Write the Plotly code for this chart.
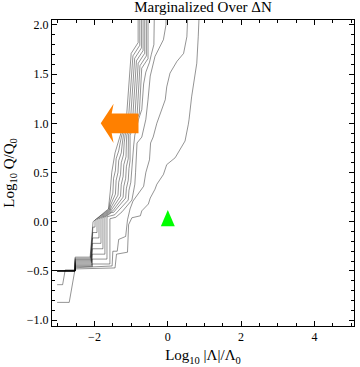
import plotly.graph_objects as go

# contour lines, inner (k0) to outer (k10)
k0_x = [-3.02, -2.53, -2.53, -2.12, -2.04, -1.62, -1.57, -1.53, -1.44, -1.30, -1.12, -1.00, -0.81, -0.81]
k0_y = [-0.50, -0.50, -0.36, -0.36, 0.00, 0.13, 0.31, 0.50, 0.70, 0.88, 1.10, 1.71, 1.82, 2.06]

k1_x = [-3.02, -2.53, -2.53, -2.112, -2.044, -1.986, -1.986, -1.605, -1.58, -1.50, -1.48, -1.43, -1.41, -1.34, -1.30, -1.255, -1.063, -0.952, -0.765, -0.765]
k1_y = [-0.50, -0.50, -0.372, -0.372, -0.055, -0.055, 0.016, 0.124, 0.19, 0.29, 0.44, 0.52, 0.64, 0.72, 0.80, 0.88, 1.10, 1.685, 1.793, 2.06]

k2_x = [-3.02, -2.53, -2.53, -2.104, -2.048, -1.932, -1.932, -1.59, -1.56, -1.43, -1.41, -1.36, -1.34, -1.27, -1.24, -1.21, -1.006, -0.904, -0.72, -0.72]
k2_y = [-0.50, -0.50, -0.384, -0.384, -0.11, -0.11, 0.022, 0.118, 0.17, 0.28, 0.42, 0.50, 0.62, 0.70, 0.80, 0.88, 1.10, 1.66, 1.766, 2.06]

k3_x = [-3.02, -2.53, -2.53, -2.096, -2.052, -1.878, -1.878, -1.575, -1.54, -1.36, -1.34, -1.29, -1.27, -1.21, -1.19, -1.165, -0.949, -0.856, -0.675, -0.675]
k3_y = [-0.50, -0.50, -0.396, -0.396, -0.165, -0.165, 0.028, 0.112, 0.15, 0.27, 0.40, 0.48, 0.60, 0.68, 0.80, 0.88, 1.10, 1.635, 1.739, 2.06]

k4_x = [-3.02, -2.53, -2.53, -2.088, -2.056, -1.824, -1.824, -1.56, -1.52, -1.29, -1.27, -1.22, -1.20, -1.14, -1.13, -1.12, -0.892, -0.808, -0.63, -0.63]
k4_y = [-0.50, -0.50, -0.408, -0.408, -0.22, -0.22, 0.034, 0.106, 0.13, 0.26, 0.38, 0.46, 0.58, 0.66, 0.80, 0.88, 1.10, 1.61, 1.712, 2.06]

k5_x = [-3.02, -2.53, -2.53, -2.08, -2.06, -1.77, -1.77, -1.545, -1.50, -1.22, -1.20, -1.15, -1.13, -1.08, -1.08, -1.075, -0.835, -0.76, -0.585, -0.585]
k5_y = [-0.50, -0.50, -0.42, -0.42, -0.275, -0.275, 0.04, 0.10, 0.11, 0.25, 0.36, 0.44, 0.56, 0.64, 0.80, 0.88, 1.10, 1.585, 1.685, 2.06]

k6_x = [-3.02, -2.53, -2.53, -2.072, -2.065, -1.716, -1.716, -1.53, -1.48, -1.15, -1.13, -1.08, -1.06, -1.03, -1.03, -0.778, -0.712, -0.54, -0.54]
k6_y = [-0.50, -0.50, -0.432, -0.432, -0.33, -0.33, 0.046, 0.094, 0.095, 0.24, 0.34, 0.42, 0.54, 0.62, 0.88, 1.10, 1.56, 1.658, 2.06]

k7_x = [-3.02, -2.53, -2.53, -2.064, -2.068, -1.66, -1.66, -1.45, -1.08, -1.06, -1.01, -0.99, -0.96, -0.93, -0.90, -0.80, -0.71, -0.66, -0.60, -0.50, -0.45, -0.38, -0.37]
k7_y = [-0.50, -0.50, -0.444, -0.444, -0.38, -0.38, 0.05, 0.07, 0.22, 0.32, 0.40, 0.52, 0.60, 0.78, 0.88, 1.04, 1.14, 1.40, 1.52, 1.62, 1.70, 1.80, 2.06]

k8_x = [-3.02, -2.53, -2.53, -2.056, -2.071, -1.58, -1.58, -1.42, -1.25, -0.98, -0.94, -0.90, -0.88, -0.86, -0.84, -0.84, -0.71, -0.60, -0.54, -0.48, -0.35, -0.12, -0.05, -0.05]
k8_y = [-0.50, -0.50, -0.456, -0.456, -0.43, -0.43, 0.03, 0.045, 0.10, 0.22, 0.30, 0.38, 0.50, 0.60, 0.73, 0.80, 0.86, 1.04, 1.24, 1.48, 1.68, 1.85, 2.00, 2.06]

k9_x = [-3.02, -2.87, -2.80, -2.53, -2.53, -1.52, -1.50, -1.38, -1.34, -1.15, -1.10, -1.03, -0.95, -0.78, -0.66, -0.60, -0.50, -0.47, -0.40, -0.30, -0.16, -0.07, -0.03, 0.06, 0.25, 0.43, 0.52, 0.54]
k9_y = [-0.64, -0.64, -0.49, -0.49, -0.468, -0.45, -0.30, -0.30, -0.18, -0.15, 0.02, 0.13, 0.21, 0.30, 0.36, 0.50, 0.63, 0.80, 0.86, 1.00, 1.14, 1.24, 1.37, 1.51, 1.63, 1.71, 1.88, 2.06]

k10_x = [-3.02, -2.69, -2.53, -1.44, -1.40, -1.10, -1.07, -0.98, -0.75, -0.71, -0.53, -0.48, -0.35, -0.30, -0.12, -0.03, 0.20, 0.47, 0.56, 0.58, 0.65, 0.74, 0.79, 0.83, 0.85]
k10_y = [-0.82, -0.82, -0.48, -0.47, -0.33, -0.31, -0.03, 0.04, 0.06, 0.11, 0.18, 0.24, 0.33, 0.38, 0.48, 0.58, 0.65, 0.82, 0.99, 1.04, 1.27, 1.48, 1.61, 1.88, 2.06]

contours = [(k0_x, k0_y), (k1_x, k1_y), (k2_x, k2_y), (k3_x, k3_y), (k4_x, k4_y),
            (k5_x, k5_y), (k6_x, k6_y), (k7_x, k7_y), (k8_x, k8_y), (k9_x, k9_y),
            (k10_x, k10_y)]

# orange arrow (tail -> tip) and green marker
arrow_tail = (-0.80, 1.0)
arrow_tip = (-1.83, 1.0)
marker_pt = (0.0, 0.0)

fig = go.Figure()

for xs, ys in contours:
    fig.add_trace(go.Scatter(x=xs, y=ys, mode='lines',
                             line=dict(color='rgba(0,0,0,0.42)', width=1),
                             hoverinfo='skip', showlegend=False))

# arrow polygon built from tail/tip (thick shaft, notched head)
tx, ty = arrow_tail
hx, hy = arrow_tip
L = tx - hx
barb = hx + 0.34 * L
notch = hx + 0.29 * L
ax = [hx, barb, notch, tx, tx, notch, barb, hx]
ay = [hy, hy + 0.20, hy + 0.10, ty + 0.10, ty - 0.10, hy - 0.10, hy - 0.20, hy]
fig.add_trace(go.Scatter(x=ax, y=ay, mode='lines', fill='toself',
                         fillcolor='rgb(255,128,0)', line=dict(width=0, color='rgb(255,128,0)'),
                         hoverinfo='skip', showlegend=False))

# green triangle around the marker point
mx, my = marker_pt
gx = [mx - 0.19, mx + 0.19, mx, mx - 0.19]
gy = [my - 0.045, my - 0.045, my + 0.12, my - 0.045]
fig.add_trace(go.Scatter(x=gx, y=gy, mode='lines', fill='toself',
                         fillcolor='rgb(0,255,0)', line=dict(width=0, color='rgb(0,255,0)'),
                         hoverinfo='skip', showlegend=False))

serif = "Liberation Serif"

fig.update_layout(
    width=360, height=367,
    margin=dict(l=52, r=6, t=20, b=41),
    paper_bgcolor='white', plot_bgcolor='white',
    title=dict(text="Marginalized Over ΔN", x=0.5, xref='paper', y=0.982, yref='container',
               yanchor='middle', font=dict(family=serif, size=15, color='black')),
    font=dict(family=serif, color='black'),
    xaxis=dict(range=[-3.16, 5.08], tickvals=[-2, 0, 2, 4], ticks='inside', ticklen=5,
               tickcolor='black', showline=True, linecolor='black', linewidth=1, mirror='ticks',
               showgrid=False, zeroline=False, tickfont=dict(family=serif, size=12),
               minor=dict(dtick=0.5, ticks='inside', ticklen=3, tickcolor='black', showgrid=False),
               title=dict(text="Log<sub>10</sub> |Λ|/Λ<sub>0</sub>", font=dict(family=serif, size=15),
                          standoff=6)),
    yaxis=dict(range=[-1.06, 2.05], dtick=0.5, tickformat='.1f', ticks='inside', ticklen=5,
               tickcolor='black', showline=True, linecolor='black', linewidth=1, mirror='ticks',
               showgrid=False, zeroline=False, tickfont=dict(family=serif, size=12),
               minor=dict(dtick=0.1, ticks='inside', ticklen=3, tickcolor='black', showgrid=False),
               title=dict(text="Log<sub>10</sub> Q/Q<sub>0</sub>", font=dict(family=serif, size=15),
                          standoff=8)),
)

fig.write_html("out.html", config={'displayModeBar': False},
               post_script="document.body.style.margin='0px';")
